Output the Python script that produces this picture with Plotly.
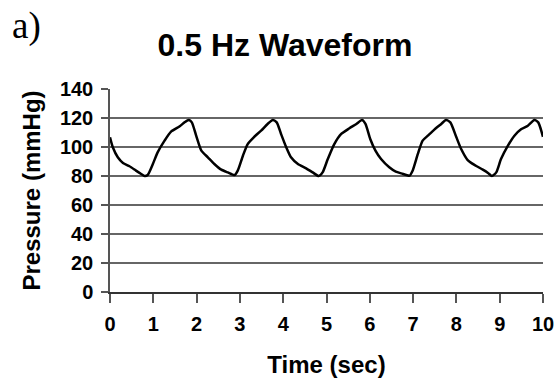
import plotly.graph_objects as go

# Sampled pressure trace (time in seconds, pressure in mmHg)
time_s = [0.00, 0.065, 0.18, 0.30, 0.45, 0.60, 0.72, 0.80, 0.87, 0.99,
          1.10, 1.26, 1.41, 1.61, 1.72, 1.82, 1.89, 1.99, 2.11, 2.26,
          2.41, 2.57, 2.72, 2.88, 2.95, 3.07, 3.18, 3.32, 3.49, 3.64,
          3.76, 3.85, 3.95, 4.07, 4.18, 4.34, 4.53, 4.68, 4.82, 4.91,
          5.03, 5.18, 5.34, 5.53, 5.69, 5.82, 5.90, 6.01, 6.13, 6.26,
          6.45, 6.60, 6.73, 6.92, 6.99, 7.11, 7.22, 7.34, 7.49, 7.65,
          7.76, 7.86, 8.00, 8.11, 8.26, 8.42, 8.61, 8.73, 8.82, 8.92,
          9.03, 9.19, 9.34, 9.50, 9.65, 9.80, 9.89, 10.0]
pressure = [106.7, 99.8, 92.9, 89.0, 86.7, 83.7, 81.4, 80.0, 80.7, 88.3,
            96.3, 104.4, 110.6, 114.3, 117.0, 118.6, 117.0, 107.8, 97.5, 92.9,
            88.3, 84.4, 82.5, 80.7, 83.7, 94.0, 102.0, 106.7, 111.3, 115.9,
            118.6, 117.0, 109.0, 99.8, 92.9, 88.3, 85.3, 82.5, 80.0, 82.5,
            91.7, 102.0, 109.0, 112.9, 115.9, 118.6, 115.9, 105.5, 97.5, 91.7,
            86.0, 83.0, 81.8, 80.2, 83.7, 95.2, 104.4, 107.8, 112.0, 115.9,
            118.6, 117.0, 106.7, 98.6, 91.0, 87.6, 84.4, 82.1, 80.0, 82.5,
            91.7, 100.9, 107.8, 112.4, 114.7, 118.6, 117.0, 107.0]

x_ticks = list(range(0, 11))
y_ticks = list(range(0, 141, 20))

SANS = "Liberation Sans, Arial, sans-serif"

fig = go.Figure()
fig.add_trace(go.Scatter(
    x=time_s, y=pressure, mode="lines",
    line=dict(color="black", width=2.5, shape="spline", smoothing=0.6),
    showlegend=False, hoverinfo="skip",
))

fig.update_layout(
    width=558, height=379,
    margin=dict(l=110, r=15, t=89, b=87),
    paper_bgcolor="white", plot_bgcolor="white",
    title=dict(
        text="0.5 Hz Waveform",
        font=dict(family=SANS, size=32, color="black", weight="bold"),
        x=285 / 558, xanchor="center", xref="container",
        y=1 - 45 / 379, yanchor="middle", yref="container",
    ),
    annotations=[
        dict(text="a)", x=0, y=1, xref="paper", yref="paper",
             xanchor="left", yanchor="top", showarrow=False,
             xshift=-100, yshift=86,
             font=dict(family="Liberation Serif, Times New Roman, serif",
                       size=37, color="black")),
    ],
)

fig.update_xaxes(
    range=[0, 10], tickvals=x_ticks, ticktext=[str(v) for v in x_ticks],
    showgrid=False, zeroline=False, automargin=False,
    showline=True, linecolor="#333333", linewidth=1.5,
    ticks="outside", ticklen=9, tickwidth=1.5, tickcolor="#555555",
    ticklabelstandoff=4,
    tickfont=dict(family=SANS, size=20, color="black", weight="bold"),
    title=dict(text="Time (sec)", standoff=22,
               font=dict(family=SANS, size=24, color="black", weight="bold")),
)
fig.update_yaxes(
    range=[0, 140], tickvals=y_ticks, ticktext=[str(v) for v in y_ticks],
    showgrid=True, gridcolor="#666666", gridwidth=1.5,
    zeroline=False, automargin=False,
    showline=True, linecolor="#555555", linewidth=1.5,
    ticks="outside", ticklen=7, tickwidth=1.5, tickcolor="#555555",
    ticklabelstandoff=4,
    tickfont=dict(family=SANS, size=20, color="black", weight="bold"),
    title=dict(text="Pressure (mmHg)", standoff=12,
               font=dict(family=SANS, size=24, color="black", weight="bold")),
)

fig.write_html("out.html")
